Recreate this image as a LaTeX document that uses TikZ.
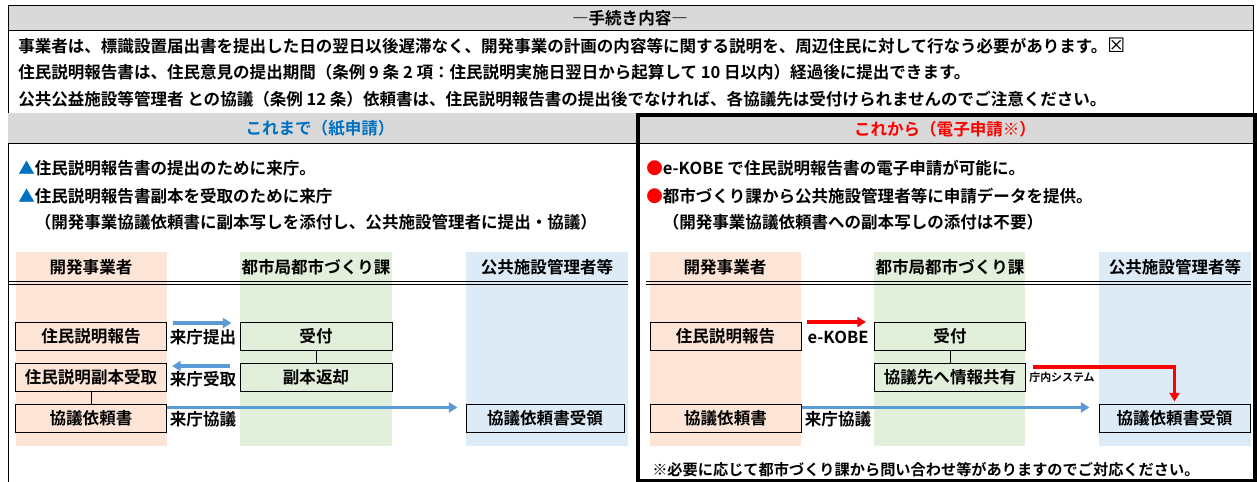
\documentclass[tikz,border=0pt]{standalone}
\usepackage{fontspec}
\setmainfont{Noto Sans CJK JP}[BoldFont={* Bold}]
\newfontfamily\symfont{DejaVu Sans}
\usetikzlibrary{arrows.meta,calc,positioning}
\definecolor{hdrgray}{HTML}{D9D9D9}
\definecolor{devpink}{HTML}{FCE4D6}
\definecolor{citygreen}{HTML}{E2EFDA}
\definecolor{pubblue}{HTML}{DDEBF7}
\definecolor{oldblue}{HTML}{0070C0}
\definecolor{arrblue}{HTML}{5B9BD5}
\definecolor{newred}{HTML}{FF0000}
\tikzset{
  txt/.style={anchor=west, inner sep=0pt, font=\fontsize{12.4}{14}\selectfont\bfseries},
  ctxt/.style={txt, anchor=center},
  procbox/.style={draw=black, line width=0.75pt, inner sep=0pt, minimum width=113.25pt,
    minimum height=21pt, font=\fontsize{12.4}{14}\selectfont\bfseries},
  bluearr/.style={draw=arrblue, line width=2.5pt, -{Triangle[length=6.5pt,width=7.5pt]}},
  redarr/.style={draw=newred, line width=2.5pt, -{Triangle[length=6.5pt,width=7.5pt]}},
  link/.style={draw=black, line width=0.75pt}
}
\begin{document}
\begin{tikzpicture}[x=0.75pt, y=-0.75pt]
\useasboundingbox (0,0) rectangle (1257,482);
% title and rules
\fill[hdrgray] (8,5) rectangle (1253,30);
\draw[line width=0.75pt] (8,482) -- (8,5) -- (1253,5) -- (1253,113);
\draw[line width=0.75pt] (8,30) -- (1253,30);
\draw[line width=0.75pt] (8,113) -- (1253,113);
\node[ctxt] (title) at (630,18) {―手続き内容―};
\node[txt] (rule1) at (18,46) {事業者は、標識設置届出書を提出した日の翌日以後遅滞なく、開発事業の計画の内容等に関する説明を、周辺住民に対して行なう必要があります。{\symfont\mdseries\fontsize{15}{16}\selectfont ☒}};
\node[txt] (rule2) at (18,72) {住民説明報告書は、住民意見の提出期間（条例 9 条 2 項：住民説明実施日翌日から起算して 10 日以内）経過後に提出できます。};
\node[txt] (rule3) at (18,99) {公共公益施設等管理者 との協議（条例 12 条）依頼書は、住民説明報告書の提出後でなければ、各協議先は受付けられませんのでご注意ください。};
% panel headers
\fill[hdrgray] (8,113) rectangle (1254,143);
\draw[line width=0.75pt] (8,143) -- (1254,143);
\node[ctxt, text=oldblue] (oldhdr) at (320,128) {これまで（紙申請）};
\node[ctxt, text=newred] (newhdr) at (945,129) {これから（電子申請※）};
% paper side
\node[txt] (old1) at (18,168) {{\color{oldblue}▲}住民説明報告書の提出のために来庁。};
\node[txt] (old2) at (18,196) {{\color{oldblue}▲}住民説明報告書副本を受取のために来庁};
\node[txt] (old3) at (18,222) {　（開発事業協議依頼書に副本写しを添付し、公共施設管理者に提出・協議）};
\fill[devpink] (16,252) rectangle (167,446);
\fill[citygreen] (240,252) rectangle (392,446);
\fill[pubblue] (466,252) rectangle (628,446);
\node[ctxt] (olddev) at (91,267) {開発事業者};
\node[ctxt] (oldcity) at (316,267) {都市局都市づくり課};
\node[ctxt] (oldpub) at (547,267) {公共施設管理者等};
\draw[line width=0.6pt] (8,281) -- (628,281);
\draw[line width=0.6pt] (8,284) -- (628,284);
\node[procbox, fill=devpink] (lrep) at (91,336.5) {住民説明報告};
\node[procbox, fill=citygreen, minimum width=114pt] (luke) at (316,336.5) {受付};
\node[procbox, fill=devpink] (lcopy) at (91,377.5) {住民説明副本受取};
\node[procbox, fill=citygreen, minimum width=114pt] (lret) at (316,377.5) {副本返却};
\node[procbox, fill=devpink] (lreq) at (91,418) {協議依頼書};
\node[procbox, fill=pubblue, minimum width=118.5pt] (lrecv) at (545,418) {協議依頼書受領};
\draw[link] (luke) -- (lret);
\draw[link] (lcopy) -- (lreq);
\draw[bluearr] ($(lrep.north east)+(6,1)$) -- ($(luke.north west)+(-8,1)$);
\draw[bluearr] ($(lret.north west)+(-10,3)$) -- ($(lcopy.north east)+(5,3)$);
\draw[bluearr] ($(lreq.north east)+(0,4)$) -- ($(lrecv.north west)+(-8,4)$);
\node[ctxt] (lvisit) at (203,337) {来庁提出};
\node[ctxt] (lpick) at (203,379) {来庁受取};
\node[ctxt] (lconsult) at (203,419) {来庁協議};
% electronic side
\node[txt] (new1) at (646,168) {{\color{newred}●}e-KOBE で住民説明報告書の電子申請が可能に。};
\node[txt] (new2) at (646,196) {{\color{newred}●}都市づくり課から公共施設管理者等に申請データを提供。};
\node[txt] (new3) at (646,222) {　（開発事業協議依頼書への副本写しの添付は不要）};
\fill[devpink] (650,252) rectangle (801,446);
\fill[citygreen] (874,252) rectangle (1025,446);
\fill[pubblue] (1099,252) rectangle (1251,446);
\node[ctxt] (newdev) at (725,267) {開発事業者};
\node[ctxt] (newcity) at (950,267) {都市局都市づくり課};
\node[ctxt] (newpub) at (1175,267) {公共施設管理者等};
\draw[line width=0.6pt] (646,281) -- (1251,281);
\draw[line width=0.6pt] (646,284) -- (1251,284);
\node[procbox, fill=devpink] (rrep) at (725.5,336.5) {住民説明報告};
\node[procbox, fill=citygreen] (ruke) at (950,336.5) {受付};
\node[procbox, fill=citygreen] (rshare) at (950,377.5) {協議先へ情報共有};
\node[procbox, fill=devpink] (rreq) at (725.5,418) {協議依頼書};
\node[procbox, fill=pubblue] (rrecv) at (1174.5,418) {協議依頼書受領};
\draw[link] (ruke) -- (rshare);
\draw[redarr] ($(rrep.north east)+(5,0)$) -- ($(ruke.north west)+(-8,0)$);
\draw[redarr] ($(rshare.north east)+(7,4)$) -| ($(rrecv.north)+(0,-2)$);
\draw[bluearr] ($(rreq.north east)+(0,4)$) -- ($(rrecv.north west)+(-9,4)$);
\node[ctxt] (rekobe) at (838,337) {e-KOBE};
\node[ctxt] (rconsult) at (838,419) {来庁協議};
\node[ctxt, font=\fontsize{8.2}{10}\selectfont\bfseries] (rsys) at (1062,377) {庁内システム};
\node[txt, font=\fontsize{11.4}{13}\selectfont\bfseries] (note) at (652,470) {※必要に応じて都市づくり課から問い合わせ等がありますのでご対応ください。};
% thick frame of the new procedure
\draw[line width=3pt] (638,115) rectangle (1254.5,480.5);
\end{tikzpicture}
\end{document}
